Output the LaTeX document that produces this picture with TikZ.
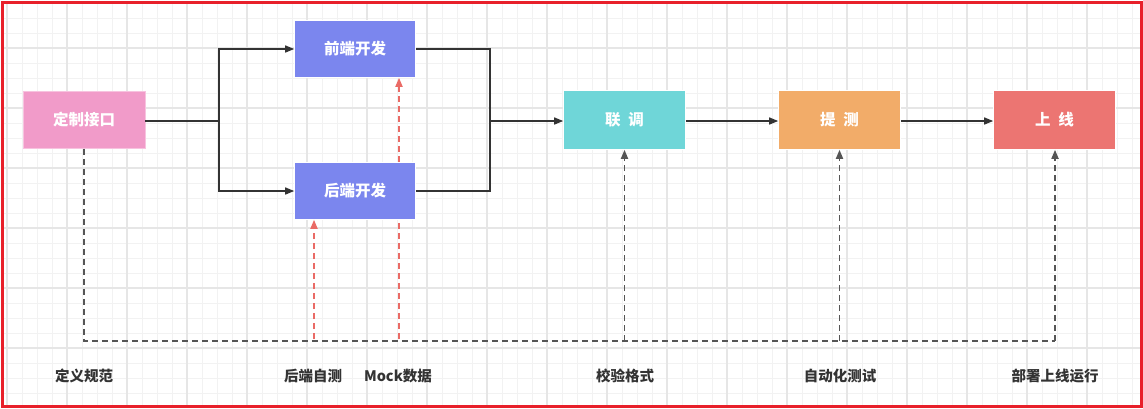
\documentclass[tikz,border=0pt]{standalone}
\usepackage{fontspec}
\setmainfont{Noto Sans CJK SC}
\usetikzlibrary{arrows.meta}
\definecolor{pinkf}{HTML}{F19BC9}
\definecolor{pinkb}{HTML}{F7C3DF}
\definecolor{bluef}{HTML}{7B86EE}
\definecolor{cyanf}{HTML}{6FD6D8}
\definecolor{orangef}{HTML}{F2AC69}
\definecolor{redf}{HTML}{EC7572}
\definecolor{frame}{HTML}{E8202A}
\definecolor{lineg}{HTML}{333333}
\definecolor{dashg}{HTML}{555555}
\definecolor{dashr}{HTML}{EA6B66}
\definecolor{gridminor}{HTML}{F2F2F2}
\definecolor{gridmajor}{HTML}{E6E6E6}
\tikzset{
  box/.style={minimum width=122pt, minimum height=57pt, inner sep=0pt, draw=white, line width=0.6pt,
    text=white, font=\fontsize{15.5}{18}\selectfont\bfseries},
  conn/.style={draw=lineg, line width=1.4pt},
  tip/.style={-{Triangle[length=9pt,width=7pt]}},
  gdash/.style={draw=dashg, line width=1.7pt, dash pattern=on 6pt off 4pt},
  rdash/.style={draw=dashr, line width=1.7pt, dash pattern=on 6pt off 4pt},
  lab/.style={text=lineg, font=\fontsize{14.5}{17}\selectfont\bfseries, inner sep=0pt}
}
\begin{document}
\begin{tikzpicture}[x=1pt,y=-1pt]
\useasboundingbox (0,0) rectangle (1143,408);
\fill[white] (0,0) rectangle (1143,408);
\begin{scope}
\clip (3,3) rectangle (1140,405);
\foreach \x in {7,22,...,1140} \draw[gridminor, line width=0.9pt] (\x,0) -- (\x,408);
\foreach \y in {3,18,...,405} \draw[gridminor, line width=0.9pt] (0,\y) -- (1143,\y);
\foreach \x in {7,67,...,1140} \draw[gridmajor, line width=1.1pt] (\x,0) -- (\x,408);
\foreach \y in {48,108,...,405} \draw[gridmajor, line width=1.1pt] (0,\y) -- (1143,\y);
\end{scope}
\draw[frame, line width=3pt] (2,2) rectangle (1141,406);

\node[box, fill=pinkf, draw=pinkb] (dz) at (84,120) {定制接口};
\node[box, fill=bluef, minimum width=121pt] (qd) at (355,49) {前端开发};
\node[box, fill=bluef, minimum width=121pt] (hd) at (355,191) {后端开发};
\node[box, fill=cyanf, minimum height=59pt] (lt) at (624.5,120) {联\hspace{0.5em}调};
\node[box, fill=orangef, minimum height=59pt] (ts) at (839.5,120) {提\hspace{0.5em}测};
\node[box, fill=redf, minimum height=59pt] (sx) at (1054.5,120) {上\hspace{0.5em}线};

\coordinate (j1) at (219,121);
\coordinate (j2) at (490,121);
\draw[conn] (dz.east |- j1) -- (j1);
\draw[conn, tip] (j1) |- (qd.west);
\draw[conn, tip] (j1) |- (hd.west);
\draw[conn] (qd.east) -| (j2);
\draw[conn] (hd.east) -| (j2);
\draw[conn, tip] (j2) -- (lt.west |- j2);
\draw[conn, tip] (lt.east |- j2) -- (ts.west |- j2);
\draw[conn, tip] (ts.east |- j2) -- (sx.west |- j2);

\coordinate (b0) at (84,341);
\coordinate (b5) at (1055,341);
\draw[gdash] (dz.south) -- (b0) -- (b5);
\draw[gdash, tip] (b5) -- (b5 |- sx.south);
\draw[gdash, tip] (lt.south |- b0) -- (lt.south);
\draw[gdash, tip] (ts.south |- b0) -- (ts.south);

\coordinate (r1) at (314,339);
\coordinate (r2) at (399,339);
\draw[rdash, tip] (r1) -- (r1 |- hd.south);
\draw[rdash] (r2) -- (r2 |- hd.south);
\draw[rdash, tip] (r2 |- hd.north) -- (r2 |- qd.south);

\node[lab] (l1) at (84,376) {定义规范};
\node[lab] (l2) at (313,376) {后端自测};
\node[lab] (l3) at (398,376) {Mock数据};
\node[lab] (l4) at (625,376) {校验格式};
\node[lab] (l5) at (840,376) {自动化测试};
\node[lab] (l6) at (1055,376) {部署上线运行};
\end{tikzpicture}
\end{document}
